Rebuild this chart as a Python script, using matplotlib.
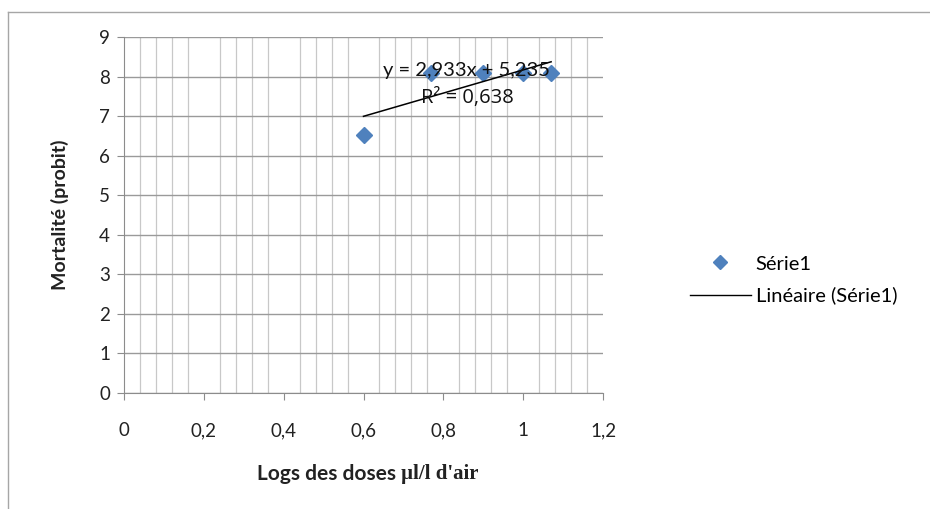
import matplotlib.pyplot as plt
import numpy as np
from matplotlib.lines import Line2D

# Data
log_doses = [0.6, 0.77, 0.9, 1.0, 1.07]
probits = [6.53, 8.09, 8.09, 8.09, 8.09]
slope = 2.933
intercept = 5.235
r2 = 0.638

x_ticks = [0, 0.2, 0.4, 0.6, 0.8, 1.0, 1.2]
x_tick_labels = ["0", "0,2", "0,4", "0,6", "0,8", "1", "1,2"]
y_ticks = list(range(10))

plt.rcParams['font.family'] = ['Lato', 'DejaVu Sans']

W, H = 930, 509
fig = plt.figure(figsize=(W / 100, H / 100), dpi=100)
ax = fig.add_axes([124 / W, 1 - 393 / H, (603 - 124) / W, (393 - 37) / H])

# Outer chart frame (cut off on right and bottom)
fig.add_artist(Line2D([8 / W, 1], [1 - 12 / H] * 2, color='#a6a6a6', lw=1))
fig.add_artist(Line2D([8 / W] * 2, [0, 1 - 12 / H], color='#a6a6a6', lw=1))

# Grid
ax.set_xlim(0, 1.2)
ax.set_ylim(0, 9)
ax.set_xticks(x_ticks)
ax.set_xticklabels(x_tick_labels)
ax.set_xticks(np.arange(0, 1.2001, 0.04), minor=True)
ax.set_yticks(y_ticks)
ax.grid(which='major', axis='y', color='#9a9a9a', lw=1)
ax.grid(which='minor', axis='x', color='#c8c8c8', lw=0.9)
ax.set_axisbelow(True)
for s in ['top', 'right']:
    ax.spines[s].set_visible(False)
for s in ['left', 'bottom']:
    ax.spines[s].set_color('#8c8c8c')
ax.tick_params(which='major', length=5, color='#8c8c8c', labelsize=13.5,
               labelcolor='#222222')
ax.tick_params(axis='y', pad=5)
ax.tick_params(axis='x', pad=16)
ax.tick_params(which='minor', length=0)

# Series and trendline
ax.plot(log_doses, probits, 'D', color='#4f81bd', markersize=8, zorder=3)
xs = np.array([min(log_doses), max(log_doses)])
ax.plot(xs, slope * xs + intercept, color='black', lw=1.1, zorder=4)

fmt = lambda v: f"{v:.3f}".replace('.', ',')
ax.text(0.857, 8.16, f"y = {fmt(slope)}x + {fmt(intercept)}", fontsize=14.5,
        ha='center', va='center', color='#111111', zorder=5)
ax.text(0.859, 7.46, f"R² = {fmt(r2)}", fontsize=14.5, family='Open Sans',
        ha='center', va='center', color='#111111', zorder=5)

# Axis titles
fig.text(60 / W, 1 - 215 / H, "Mortalité (probit)", rotation=90, fontsize=14,
         fontweight='bold', ha='center', va='center', color='#222222')
t1 = fig.text(257 / W, 1 - 474 / H, "Logs des doses ", fontsize=15,
              fontweight='bold', ha='left', va='center', color='#222222')
fig.canvas.draw()
bb = t1.get_window_extent()
fig.text(bb.x1 / W, 1 - 474 / H, "µl/l d'air", fontsize=15, fontweight='bold',
         family='Liberation Serif', ha='left', va='center', color='#222222')

# Legend
handles = [Line2D([], [], marker='D', ls='', color='#4f81bd', markersize=7),
           Line2D([], [], color='black', lw=1)]
fig.legend(handles, ["Série1", "Linéaire (Série1)"], loc='center left',
           bbox_to_anchor=(672 / W, 1 - 280 / H), frameon=False, fontsize=14.5,
           handlelength=3.0, handletextpad=0.25, labelspacing=0.7)

fig.savefig("out.png", dpi=100)
